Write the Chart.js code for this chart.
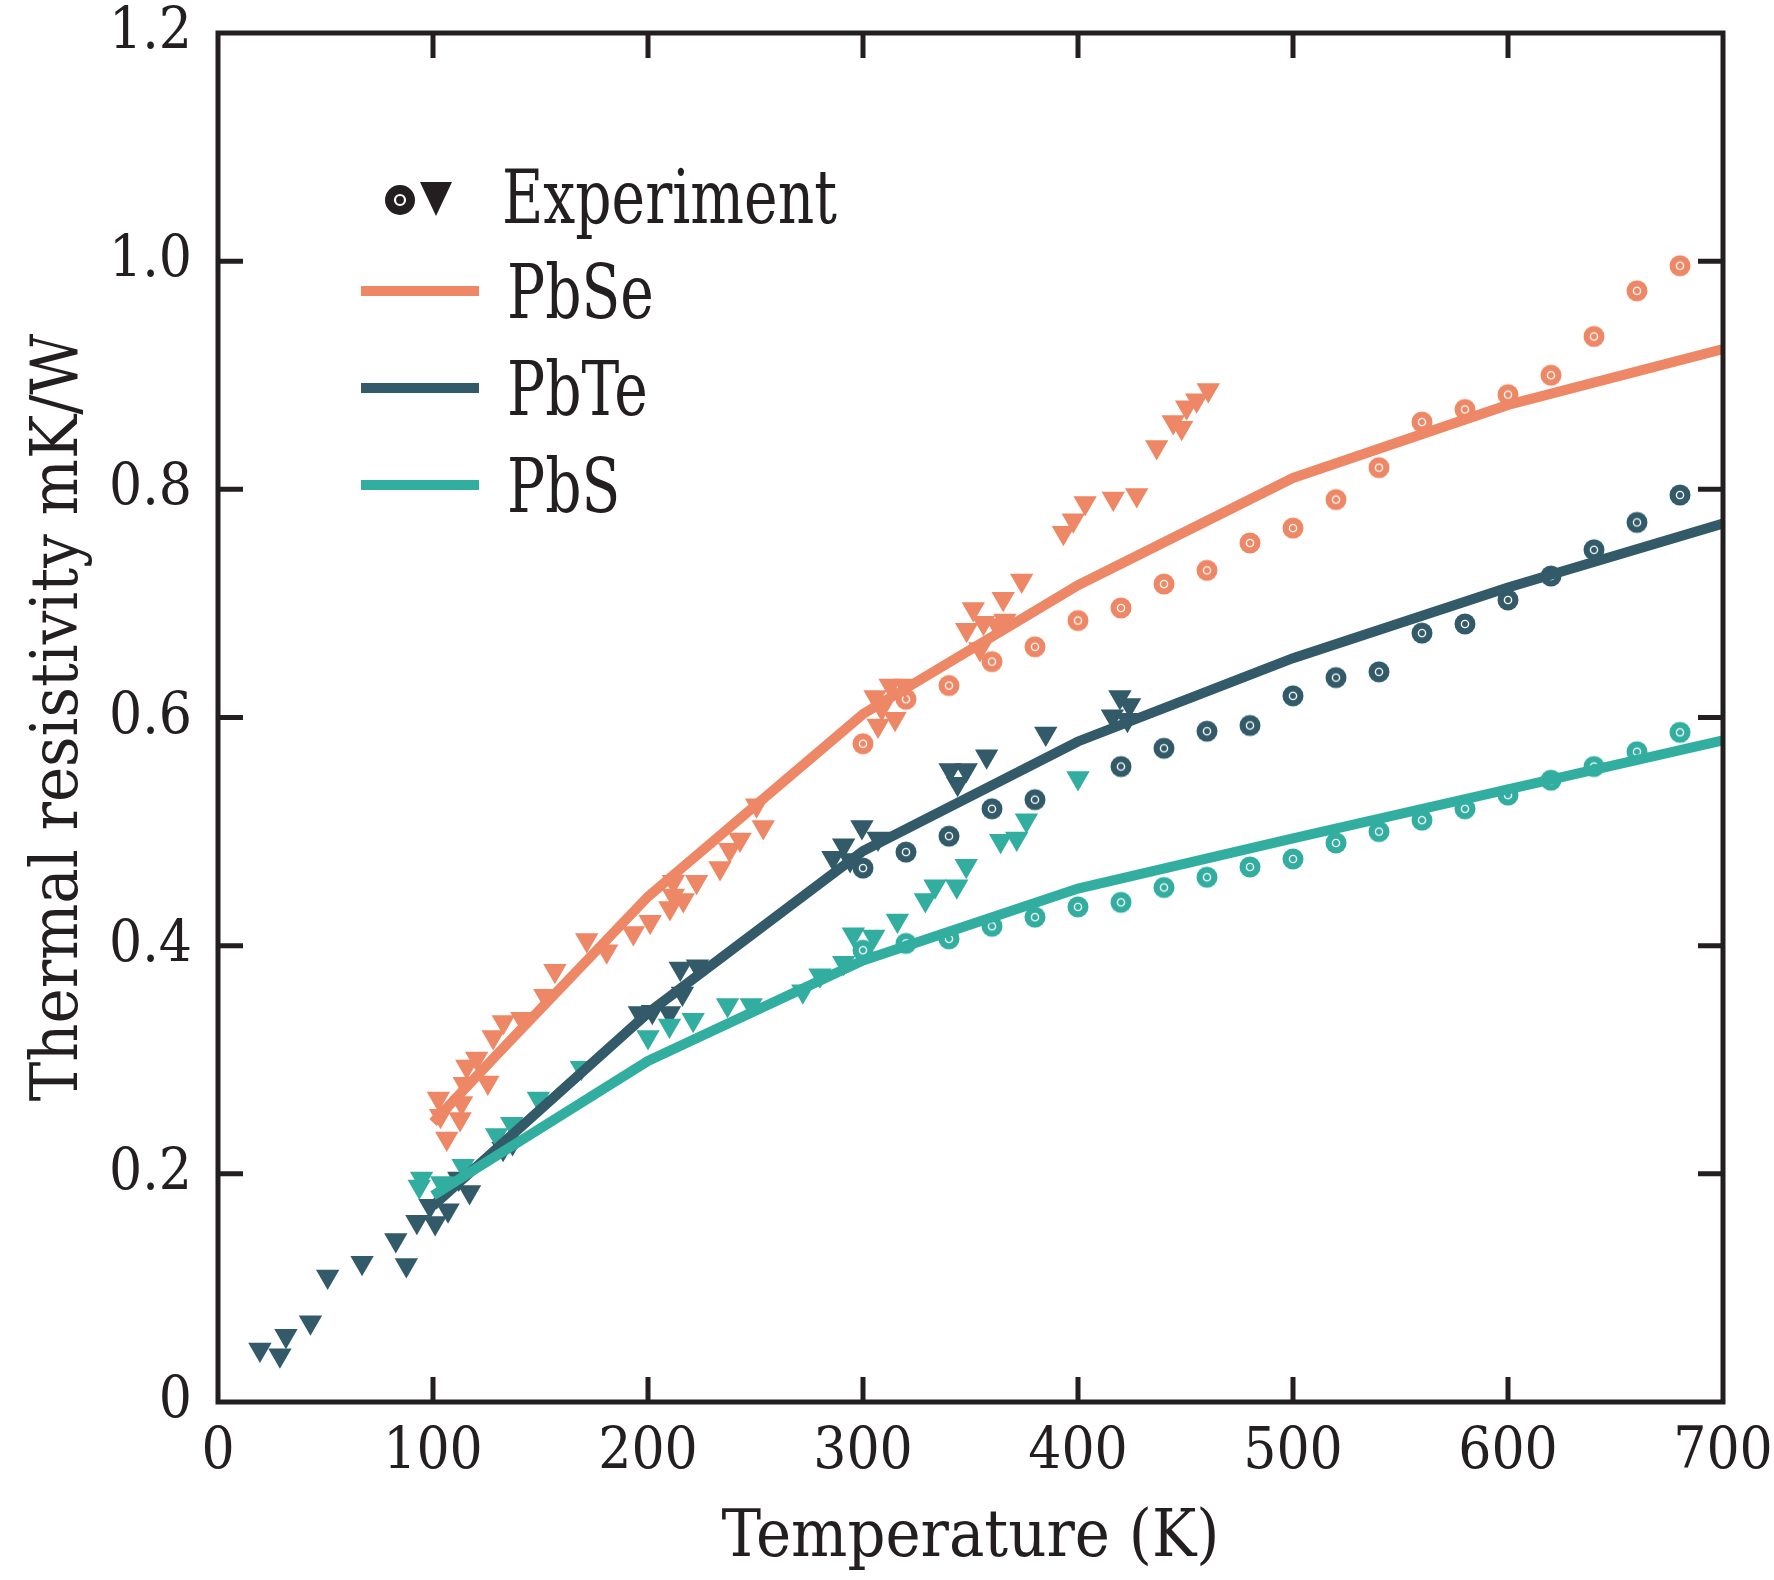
<!DOCTYPE html>
<html>
<head>
<meta charset="utf-8">
<script src="https://cdn.jsdelivr.net/npm/chart.js@4.4.1/dist/chart.umd.min.js"></script>
<style>
  html, body { margin: 0; padding: 0; background: #fff; }
  #wrap { width: 1774px; height: 1580px; position: relative; }
</style>
</head>
<body>
<div id="wrap"><canvas id="grafico"></canvas></div>
<script>
// cores e fonte
const INK = '#231f20';
const COR_PBSE = '#ee8765';
const COR_PBTE = '#325a68';
const COR_PBS = '#32aea0';
const FONTE = "'DejaVu Serif Condensed', 'DejaVu Serif', serif";

// eixos
const xTicks = [0, 100, 200, 300, 400, 500, 600, 700];
const yTicks = [0, 0.2, 0.4, 0.6, 0.8, 1.0, 1.2];

// modelo (linhas)
const pbseModelT = [100, 130, 200, 300, 400, 500, 600, 700];
const pbseModel = [0.245, 0.305, 0.443, 0.603, 0.716, 0.810, 0.874, 0.923];
const modelT = [100, 200, 300, 400, 500, 600, 700];
const pbteModel = [0.172, 0.341, 0.483, 0.579, 0.652, 0.714, 0.770];
const pbsModel = [0.181, 0.299, 0.387, 0.450, 0.494, 0.537, 0.580];

// experimento: círculos (300-680 K)
const circT = [300, 320, 340, 360, 380, 400, 420, 440, 460, 480, 500, 520, 540, 560, 580, 600, 620, 640, 660, 680];
const pbseCirc = [0.577, 0.616, 0.628, 0.649, 0.662, 0.685, 0.696, 0.717, 0.729, 0.753, 0.766, 0.791, 0.819, 0.859, 0.870, 0.883, 0.900, 0.934, 0.974, 0.996];
const pbteCirc = [0.468, 0.482, 0.496, 0.520, 0.528, null, 0.557, 0.573, 0.588, 0.593, 0.619, 0.635, 0.640, 0.674, 0.682, 0.703, 0.724, 0.747, 0.771, 0.795];
const pbsCirc = [0.396, 0.402, 0.406, 0.417, 0.425, 0.434, 0.438, 0.451, 0.460, 0.469, 0.476, 0.490, 0.500, 0.510, 0.520, 0.532, 0.545, 0.557, 0.570, 0.587];

// experimento: triângulos
const pbseTriT = [102.5, 103.5, 106.4, 112.6, 113.3, 114.5, 115.7, 120.3, 125.5, 128, 132.7, 141.3, 152, 156.7, 171.5, 180.8, 193.2, 201, 210.2, 211.8, 216.4, 211.8, 222.6, 233.5, 238, 242.8, 250.5, 253.6, 305.6, 312.6, 319.5, 307, 314.9, 308.7, 348.2, 351.3, 356, 362.2, 366, 354.4, 365.2, 373.8, 393.2, 397.8, 403.3, 416.4, 427.3, 436.6, 444.3, 448.2, 450.5, 455.2, 460.6];
const pbseTri = [0.266, 0.251, 0.231, 0.248, 0.262, 0.279, 0.294, 0.301, 0.280, 0.320, 0.333, 0.336, 0.356, 0.378, 0.405, 0.395, 0.411, 0.421, 0.433, 0.444, 0.440, 0.456, 0.456, 0.468, 0.484, 0.493, 0.523, 0.504, 0.618, 0.628, 0.628, 0.593, 0.599, 0.608, 0.677, 0.695, 0.683, 0.681, 0.685, 0.660, 0.704, 0.720, 0.762, 0.773, 0.788, 0.792, 0.795, 0.837, 0.859, 0.854, 0.872, 0.878, 0.887];
const pbteTriT = [19.5, 28.8, 31.6, 43, 51, 67, 82.7, 87.6, 92.5, 98.6, 101, 107, 112, 117, 132.6, 137, 196, 202, 210, 216, 215, 223, 286, 291, 294, 299.5, 307, 340.5, 348, 344, 357.5, 385, 416, 419.5, 424, 423];
const pbteTri = [0.046, 0.041, 0.058, 0.070, 0.110, 0.122, 0.142, 0.120, 0.158, 0.172, 0.157, 0.168, 0.196, 0.184, 0.222, 0.227, 0.341, 0.342, 0.341, 0.358, 0.380, 0.382, 0.477, 0.488, 0.475, 0.504, 0.494, 0.554, 0.554, 0.542, 0.566, 0.586, 0.601, 0.618, 0.611, 0.598];
const pbsTriT = [93.6, 94.7, 104, 114, 129.6, 136.6, 149, 169, 200, 210, 221, 237, 248, 272, 280, 291, 295.5, 305, 316, 329, 333.5, 343.6, 348, 364, 371.5, 376, 400];
const pbsTri = [0.189, 0.196, 0.192, 0.207, 0.234, 0.244, 0.266, 0.293, 0.320, 0.330, 0.335, 0.348, 0.348, 0.360, 0.374, 0.385, 0.410, 0.408, 0.422, 0.440, 0.452, 0.452, 0.470, 0.492, 0.494, 0.510, 0.547];

const pontos = (xs, ys) => xs.map((x, i) => ({ x: x, y: ys[i] }));

// marcador "círculo com anel branco"
function fazerBolinha(cor) {
    const c = document.createElement('canvas');
    c.width = 24; c.height = 24;
    const g = c.getContext('2d');
    g.fillStyle = cor;
    g.beginPath(); g.arc(12, 12, 10.5, 0, Math.PI * 2); g.fill();
    g.strokeStyle = '#fff'; g.lineWidth = 1.4;
    g.beginPath(); g.arc(12, 12, 3.6, 0, Math.PI * 2); g.stroke();
    return c;
}

function linha(label, xs, ys, cor) {
    return { label, data: pontos(xs, ys), showLine: true, borderColor: cor, borderWidth: 10,
             pointRadius: 0, tension: 0, fill: false, borderCapStyle: 'butt' };
}
function bolinhas(label, ys, cor) {
    return { label, data: pontos(circT, ys), showLine: false, pointStyle: fazerBolinha(cor),
             pointRadius: 10, backgroundColor: cor, borderWidth: 0 };
}
function triangulos(label, xs, ys, cor) {
    return { label, data: pontos(xs, ys), showLine: false, pointStyle: 'triangle', rotation: 180,
             pointRadius: 13.5, backgroundColor: cor, borderWidth: 0 };
}

// moldura + ticks para dentro + legenda
const moldura = {
    id: 'moldura',
    afterDraw(chart) {
        const { ctx, chartArea: a, scales } = chart;
        ctx.save();
        ctx.strokeStyle = INK;
        ctx.lineWidth = 5;
        ctx.strokeRect(a.left, a.top, a.right - a.left, a.bottom - a.top);
        const L = 25;
        ctx.beginPath();
        scales.x.ticks.forEach(t => {
            if (t.value <= 0 || t.value >= 700) return;
            const px = scales.x.getPixelForValue(t.value);
            ctx.moveTo(px, a.bottom); ctx.lineTo(px, a.bottom - L);
            ctx.moveTo(px, a.top); ctx.lineTo(px, a.top + L);
        });
        scales.y.ticks.forEach(t => {
            if (t.value <= 0 || t.value >= 1.2) return;
            const py = scales.y.getPixelForValue(t.value);
            ctx.moveTo(a.left, py); ctx.lineTo(a.left + L, py);
            ctx.moveTo(a.right, py); ctx.lineTo(a.right - L, py);
        });
        ctx.stroke();

        // legenda
        ctx.fillStyle = INK;
        ctx.beginPath(); ctx.arc(400, 200, 15, 0, Math.PI * 2); ctx.fill();
        ctx.strokeStyle = '#fff'; ctx.lineWidth = 2.2;
        ctx.beginPath(); ctx.arc(400, 200, 5, 0, Math.PI * 2); ctx.stroke();
        ctx.fillStyle = INK;
        ctx.beginPath(); ctx.moveTo(420, 182); ctx.lineTo(452, 182); ctx.lineTo(436, 216); ctx.closePath(); ctx.fill();

        const itens = [['Experiment', null, 223], ['PbSe', COR_PBSE, 318], ['PbTe', COR_PBTE, 415], ['PbS', COR_PBS, 512]];
        ctx.font = '75px ' + FONTE;
        ctx.textBaseline = 'alphabetic';
        itens.forEach(([txt, cor, base]) => {
            if (cor) {
                ctx.fillStyle = cor;
                ctx.fillRect(361, base - 32, 118, 10);
            }
            ctx.fillStyle = INK;
            ctx.save();
            ctx.translate(cor ? 507 : 502, base);
            ctx.scale(0.84, 1);
            ctx.fillText(txt, 0, 0);
            ctx.restore();
        });
        ctx.restore();
    }
};

Chart.defaults.font.family = FONTE;
Chart.defaults.color = INK;

new Chart(document.getElementById('grafico'), {
    type: 'scatter',
    data: {
        datasets: [
            linha('PbS', modelT, pbsModel, COR_PBS),
            linha('PbTe', modelT, pbteModel, COR_PBTE),
            linha('PbSe', pbseModelT, pbseModel, COR_PBSE),
            triangulos('PbS exp', pbsTriT, pbsTri, COR_PBS),
            triangulos('PbTe exp', pbteTriT, pbteTri, COR_PBTE),
            triangulos('PbSe exp', pbseTriT, pbseTri, COR_PBSE),
            bolinhas('PbS exp2', pbsCirc, COR_PBS),
            bolinhas('PbTe exp2', pbteCirc, COR_PBTE),
            bolinhas('PbSe exp2', pbseCirc, COR_PBSE)
        ]
    },
    options: {
        responsive: true,
        maintainAspectRatio: false,
        animation: false,
        layout: { padding: { left: 0, top: 33, right: 51, bottom: 0 } },
        plugins: { legend: { display: false }, tooltip: { enabled: false } },
        scales: {
            x: {
                type: 'linear', min: 0, max: 700,
                afterBuildTicks: s => { s.ticks = xTicks.map(v => ({ value: v })); },
                afterFit: s => { s.height = 178; s.paddingLeft = 0; s.paddingRight = 0; },
                grid: { display: false, drawTicks: false },
                border: { display: false },
                ticks: { font: { size: 58, lineHeight: 1 }, padding: 22, maxRotation: 0,
                         callback: v => String(v) },
                title: { display: true, text: 'Temperature (K)', font: { size: 66 }, padding: { top: 0, bottom: 2 } }
            },
            y: {
                type: 'linear', min: 0, max: 1.2,
                afterBuildTicks: s => { s.ticks = yTicks.map(v => ({ value: v })); },
                afterFit: s => { s.width = 218; s.paddingTop = 0; s.paddingBottom = 0; },
                grid: { display: false, drawTicks: false },
                border: { display: false },
                ticks: { font: { size: 58, lineHeight: 1 }, padding: 26,
                         callback: v => v === 0 ? '0' : v.toFixed(1) },
                title: { display: true, text: 'Thermal resistivity mK/W', font: { size: 66 }, padding: { top: 20, bottom: 0 } }
            }
        }
    },
    plugins: [moldura]
});
</script>
</body>
</html>
